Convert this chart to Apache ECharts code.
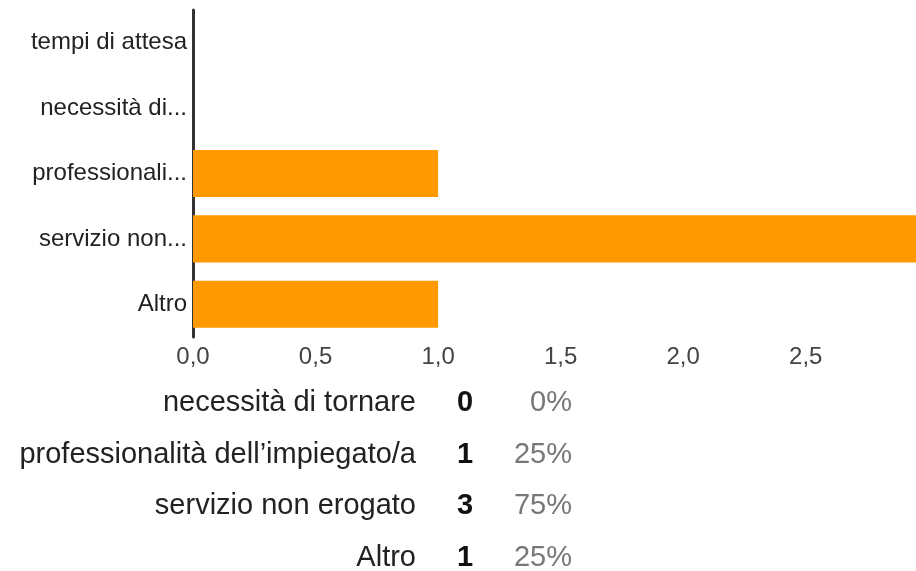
<!DOCTYPE html>
<html>

<head>
  <meta charset="utf-8">
  <title>Motivi</title>
  <style>
    html, body {
      margin: 0;
      padding: 0;
      background: #fff;
    }

    #chart {
      width: 916px;
      height: 571px;
    }
  </style>
</head>

<body>
  <div id="chart"></div>
</body>
<script src="https://cdn.jsdelivr.net/npm/echarts@6/dist/echarts.min.js"></script>
<script>
  // categorie (etichette corte come nel grafico)
  let categories = ['tempi di attesa', 'necessità di...', 'professionali...', 'servizio non...', 'Altro']
  let values = [0, 0, 1, 3, 1]

  // tabella riassuntiva sotto al grafico
  let tableLabels = ['necessità di tornare', 'professionalità dell’impiegato/a', 'servizio non erogato', 'Altro']
  let tableCounts = ['0', '1', '3', '1']
  let tablePercents = ['0%', '25%', '75%', '25%']

  let font = '"Liberation Sans", Arial, sans-serif'

  let chart = echarts.init(document.getElementById('chart'))

  function build_table() {
    let items = []
    let rowY = [403, 455, 506, 558]
    tableLabels.forEach((t, i) => {
      items.push({
        type: 'text', left: null, x: 416, y: rowY[i],
        style: { text: t, align: 'right', verticalAlign: 'middle', fill: '#222', font: '29px ' + font }
      })
      items.push({
        type: 'text', x: 465, y: rowY[i],
        style: { text: tableCounts[i], align: 'center', verticalAlign: 'middle', fill: '#111', font: 'bold 29px ' + font }
      })
      items.push({
        type: 'text', x: 572, y: rowY[i],
        style: { text: tablePercents[i], align: 'right', verticalAlign: 'middle', fill: '#777', font: '29px ' + font }
      })
    })
    return items
  }

  let option = {
    animation: false,
    grid: {
      left: 193,
      top: 10,
      width: 723,
      height: 327,
      containLabel: false
    },
    xAxis: {
      type: 'value',
      min: 0,
      max: 2.95,
      interval: 0.5,
      axisLine: { show: false },
      axisTick: { show: false },
      splitLine: { show: false },
      axisLabel: {
        color: '#444',
        fontFamily: font,
        fontSize: 24,
        margin: 8,
        showMaxLabel: false,
        formatter: (v) => v.toFixed(1).replace('.', ',')
      }
    },
    yAxis: {
      type: 'category',
      inverse: true,
      data: categories,
      axisLine: { show: true, lineStyle: { color: '#333', width: 3 } },
      axisTick: { show: false },
      axisLabel: {
        color: '#222',
        fontFamily: font,
        fontSize: 24,
        margin: 6
      }
    },
    series: [
      {
        type: 'bar',
        data: values,
        barCategoryGap: '28%',
        clip: true,
        itemStyle: { color: '#FF9900' }
      }
    ],
    graphic: build_table()
  }

  chart.setOption(option)
</script>

</html>
